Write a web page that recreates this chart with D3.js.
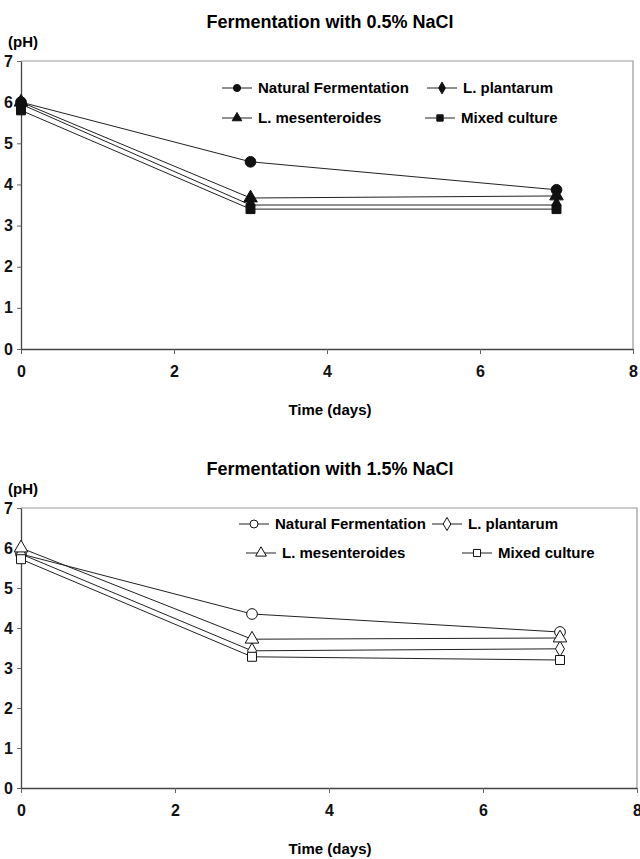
<!DOCTYPE html>
<html>
<head>
<meta charset="utf-8">
<script src="https://cdn.jsdelivr.net/npm/d3@7"></script>
<style>
  body { margin: 0; background: #fff; }
  svg { display: block; }
  .title { font-family: "Liberation Sans", Arial, sans-serif; font-weight: bold; font-size: 18px; }
  .lab { font-family: "Liberation Sans", Arial, sans-serif; font-weight: bold; font-size: 15px; }
  .tick text { font-family: "Liberation Sans", Arial, sans-serif; font-weight: bold; font-size: 16px; fill: #111; }
</style>
</head>
<body>
<svg width="640" height="859"></svg>
<script>
const days = [0, 3, 7];
const seriesNames = ["Natural Fermentation", "L. plantarum", "L. mesenteroides", "Mixed culture"];
const xTicks = [0, 2, 4, 6, 8];
const yTicks = [0, 1, 2, 3, 4, 5, 6, 7];

// 0.5% NaCl
const natural05 = [6.0, 4.55, 3.87];
const plantarum05 = [5.95, 3.5, 3.5];
const mesenteroides05 = [6.0, 3.67, 3.72];
const mixed05 = [5.8, 3.4, 3.4];

// 1.5% NaCl
const natural15 = [5.85, 4.35, 3.9];
const plantarum15 = [5.85, 3.43, 3.48];
const mesenteroides15 = [6.0, 3.72, 3.75];
const mixed15 = [5.72, 3.28, 3.2];

const svg = d3.select("svg");

function symbolFor(i) {
    return [d3.symbolCircle, d3.symbolDiamond, d3.symbolTriangle, d3.symbolSquare][i];
}
const symbolSize = [90, 70, 80, 80];

function drawChart(cfg) {
    const g = svg.append("g");
    const x = d3.scaleLinear().domain([0, 8]).range([cfg.left, cfg.right]);
    const y = d3.scaleLinear().domain([0, 7]).range([cfg.bottom, cfg.top]);

    // frame (top and right)
    g.append("path")
        .attr("d", `M${cfg.left},${cfg.top}H${cfg.right}V${cfg.bottom}`)
        .attr("fill", "none")
        .attr("stroke", "#999")
        .attr("stroke-width", 1.2);

    const xAxis = g.append("g")
        .attr("transform", `translate(0,${cfg.bottom})`)
        .call(d3.axisBottom(x).tickValues(xTicks).tickFormat(d3.format("d"))
            .tickSize(5).tickPadding(12).tickSizeOuter(0));
    const yAxis = g.append("g")
        .attr("transform", `translate(${cfg.left},0)`)
        .call(d3.axisLeft(y).tickValues(yTicks).tickFormat(d3.format("d"))
            .tickSize(4).tickPadding(4).tickSizeOuter(0));
    xAxis.select(".domain").attr("stroke", "#444").attr("stroke-width", 1.3);
    yAxis.select(".domain").attr("stroke", "#444").attr("stroke-width", 1.3);
    g.selectAll(".tick line").attr("stroke", "#666");

    g.append("text").attr("class", "title")
        .attr("x", 330).attr("y", cfg.top - 33)
        .attr("text-anchor", "middle")
        .text(cfg.title);
    g.append("text").attr("class", "lab")
        .attr("x", 8).attr("y", cfg.top - 14)
        .text("(pH)");
    g.append("text").attr("class", "lab")
        .attr("x", 330).attr("y", cfg.bottom + 66)
        .attr("text-anchor", "middle")
        .text("Time (days)");

    const line = d3.line().x((d, i) => x(days[i])).y(d => y(d));

    cfg.data.forEach((vals, i) => {
        g.append("path")
            .datum(vals)
            .attr("d", line)
            .attr("fill", "none")
            .attr("stroke", "#222")
            .attr("stroke-width", 1);
    });
    cfg.data.forEach((vals, i) => {
        g.selectAll(null)
            .data(vals)
            .join("path")
            .attr("transform", (d, j) => `translate(${x(days[j])},${y(d)})`)
            .attr("d", d3.symbol().type(symbolFor(i)).size(symbolSize[i]))
            .attr("fill", cfg.filled ? "#111" : "#fff")
            .attr("stroke", "#111")
            .attr("stroke-width", 1);
    });

    // legend
    cfg.legend.forEach((pos, i) => {
        const lg = g.append("g").attr("transform", `translate(${pos[0]},${pos[1]})`);
        lg.append("line")
            .attr("x1", -15).attr("x2", 15)
            .attr("stroke", "#222").attr("stroke-width", 1);
        lg.append("path")
            .attr("d", d3.symbol().type(symbolFor(i)).size(cfg.filled ? 40 : 50))
            .attr("fill", cfg.filled ? "#111" : "#fff")
            .attr("stroke", "#111");
        lg.append("text").attr("class", "lab")
            .attr("x", 21).attr("dy", "0.35em")
            .text(seriesNames[i]);
    });
}

drawChart({
    title: "Fermentation with 0.5% NaCl",
    left: 21, right: 633, top: 61, bottom: 349,
    filled: true,
    data: [natural05, plantarum05, mesenteroides05, mixed05],
    legend: [[237, 88], [442, 88], [237, 118], [440, 118]]
});

drawChart({
    title: "Fermentation with 1.5% NaCl",
    left: 21, right: 637, top: 508, bottom: 788,
    filled: false,
    data: [natural15, plantarum15, mesenteroides15, mixed15],
    legend: [[254, 524], [447, 524], [261, 553], [477, 553]]
});
</script>
</body>
</html>
